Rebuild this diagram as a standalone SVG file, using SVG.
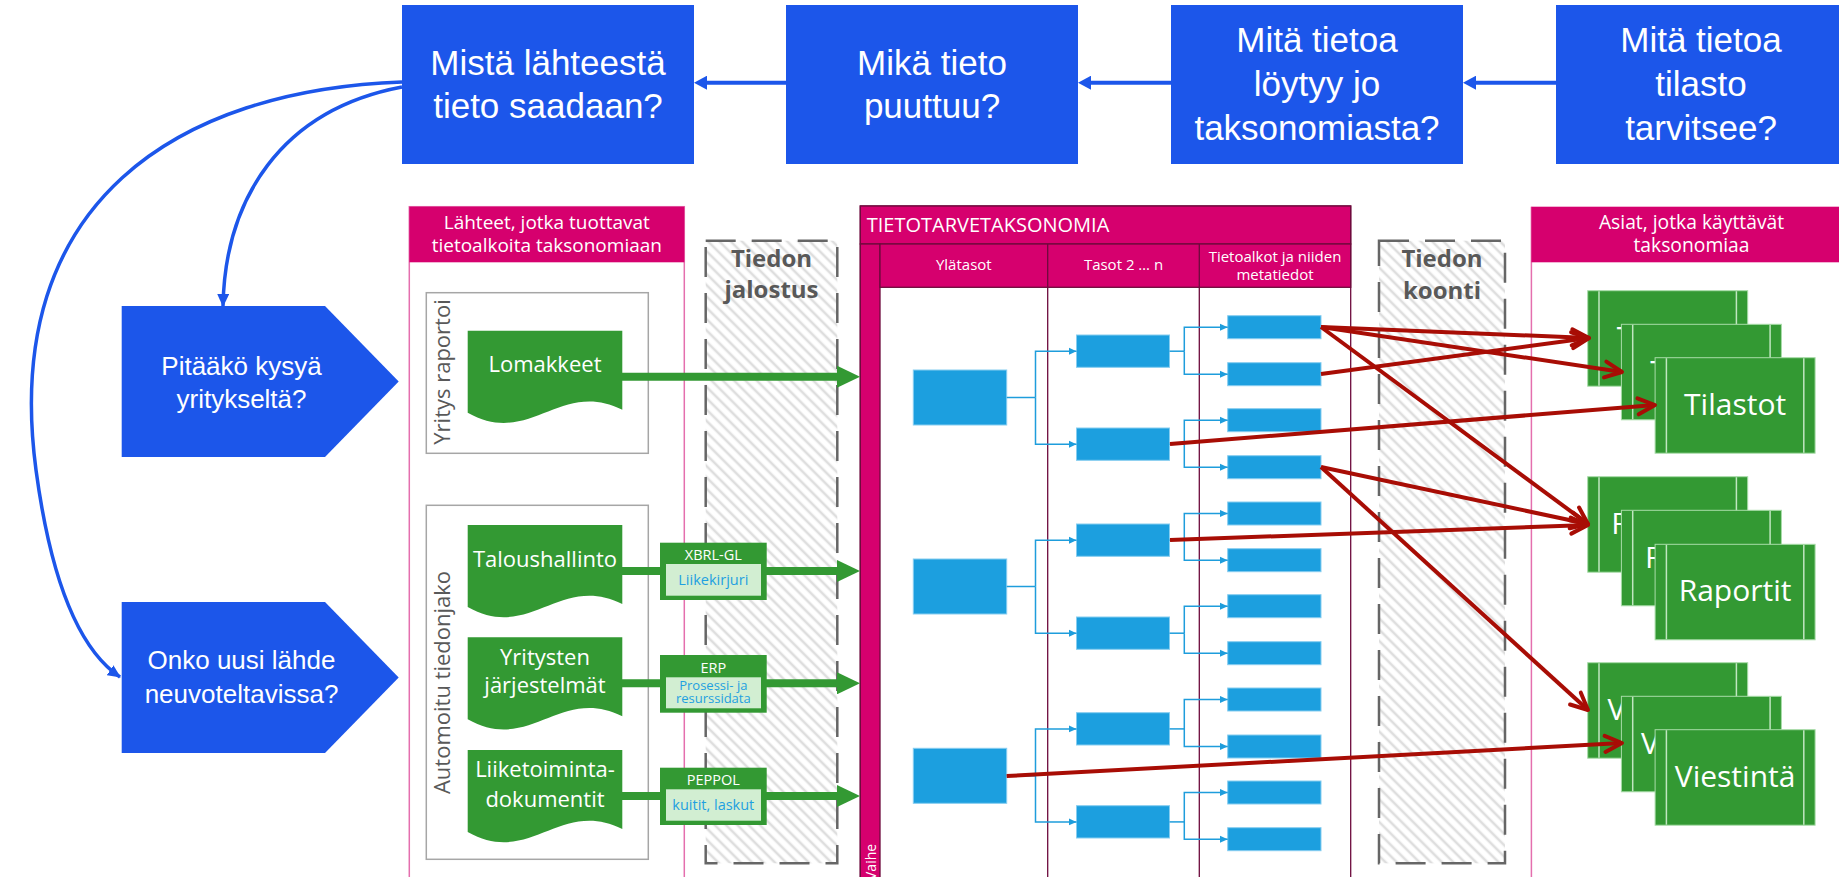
<svg xmlns="http://www.w3.org/2000/svg" width="1839" height="877" viewBox="0 0 1839 877">
<style>
.q{fill:#1c56ea}
.qt{font-family:"Liberation Sans",Arial,sans-serif;fill:#fff;text-anchor:middle}
.s{font-family:"Open Sans","Noto Sans",sans-serif}
.w{fill:#fff}
.mid{text-anchor:middle}
.pk{fill:#d6006e}
.pkl{fill:none;stroke:#e46fae;stroke-width:1.5}
.mr{stroke:#6d0a3c;stroke-width:1.3;fill:none}
.gb{fill:none;stroke:#a6a6a6;stroke-width:1.5}
.gr{fill:#339933}
.lg{fill:#d2eed2}
.bt{fill:#1ea0e0}
.bx{fill:#1c9fdf;stroke:#86cdf0;stroke-width:1}
.bc{fill:none;stroke:#1e9ddc;stroke-width:1.5}
.rd{fill:none;stroke:#a80d05;stroke-width:4;marker-end:url(#ra)}
.ga{fill:none;stroke:#339933;stroke-width:8;marker-end:url(#ga)}
.gl{fill:none;stroke:#339933;stroke-width:8}
.dash{fill:url(#hatch);stroke:#666;stroke-width:2.5;stroke-dasharray:30 16}
.dt{font-family:"Open Sans","Noto Sans",sans-serif;font-weight:bold;font-size:24px;fill:#595959;text-anchor:middle}
.card{fill:#339933;stroke:#a8dca8;stroke-width:1}
.cl{stroke:#c0e6c0;stroke-width:1.5}
.ct{font-family:"Open Sans","Noto Sans",sans-serif;font-size:30px;fill:#fff;text-anchor:middle}
.bl{fill:none;stroke:#1c56ea;stroke-width:3.5}
.rot{font-family:"Open Sans","Noto Sans",sans-serif;font-size:22px;fill:#595959;text-anchor:middle}
</style>
<defs>
<pattern id="hatch" patternUnits="userSpaceOnUse" width="8" height="8" patternTransform="rotate(-45)">
<rect width="8" height="8" fill="#fff"/>
<line x1="2" y1="0" x2="2" y2="8" stroke="#dedede" stroke-width="2.6"/>
</pattern>
<marker id="ra" markerUnits="userSpaceOnUse" viewBox="-20 -12 24 24" markerWidth="24" markerHeight="24" refX="0" refY="0" orient="auto">
<path d="M-17,-8 L0,0 L-17,8" fill="none" stroke="#a80d05" stroke-width="4" stroke-linejoin="round" stroke-linecap="round"/>
</marker>
<marker id="ga" markerUnits="userSpaceOnUse" viewBox="0 0 23 22" markerWidth="23" markerHeight="22" refX="3" refY="11" orient="auto">
<path d="M0,0 L23,11 L0,22 Z" fill="#339933"/>
</marker>
<marker id="ba" markerUnits="userSpaceOnUse" viewBox="0 0 8 8" markerWidth="8" markerHeight="8" refX="8" refY="4" orient="auto">
<path d="M0,0.3 L8,4 L0,7.7 Z" fill="#1e9ddc"/>
</marker>
<marker id="qa" markerUnits="userSpaceOnUse" viewBox="0 0 14 14" markerWidth="14" markerHeight="14" refX="7" refY="7" orient="auto">
<path d="M0,0 L13,7 L0,14 Z" fill="#1c56ea"/>
</marker>
<marker id="qc" markerUnits="userSpaceOnUse" viewBox="0 0 13 12" markerWidth="13" markerHeight="12" refX="12" refY="6" orient="auto">
<path d="M0,0 L13,6 L0,12 Z" fill="#1c56ea"/>
</marker>
<path id="doc" d="M0,0 H154.6 V79 C92.3,48 62.3,117 0,82 Z"/>
<g id="card">
<rect class="card" x="0" y="0" width="160" height="95.5"/>
<line class="cl" x1="11.3" y1="0.5" x2="11.3" y2="95"/>
<line class="cl" x1="148.7" y1="0.5" x2="148.7" y2="95"/>
</g>
</defs>

<rect width="1839" height="877" fill="#fff"/>

<!-- top question boxes -->
<g id="q1"><rect class="q" x="402" y="5" width="292" height="159"/>
<text class="qt" font-size="35"><tspan x="548" y="75">Mistä lähteestä</tspan><tspan x="548" y="118">tieto saadaan?</tspan></text></g>
<g id="q2"><rect class="q" x="786" y="5" width="292" height="159"/>
<text class="qt" font-size="35"><tspan x="932" y="75">Mikä tieto</tspan><tspan x="932" y="118">puuttuu?</tspan></text></g>
<g id="q3"><rect class="q" x="1171" y="5" width="292" height="159"/>
<text class="qt" font-size="35"><tspan x="1317" y="52">Mitä tietoa</tspan><tspan x="1317" y="96">löytyy jo</tspan><tspan x="1317" y="140">taksonomiasta?</tspan></text></g>
<g id="q4"><rect class="q" x="1556" y="5" width="290" height="159"/>
<text class="qt" font-size="35"><tspan x="1701" y="52">Mitä tietoa</tspan><tspan x="1701" y="96">tilasto</tspan><tspan x="1701" y="140">tarvitsee?</tspan></text></g>

<!-- pentagons -->
<g id="p1"><polygon class="q" points="121.7,306 325,306 398.7,381.6 325,457 121.7,457"/>
<text class="qt" font-size="26"><tspan x="241.5" y="374.6">Pitääkö kysyä</tspan><tspan x="241.5" y="408">yritykseltä?</tspan></text></g>
<g id="p2"><polygon class="q" points="121.7,602 325,602 398.7,677.5 325,753 121.7,753"/>
<text class="qt" font-size="26"><tspan x="241.5" y="669.3">Onko uusi lähde</tspan><tspan x="241.5" y="702.7">neuvoteltavissa?</tspan></text></g>

<!-- sources container -->
<g id="sources">
<rect class="pkl" x="409.3" y="206.7" width="275" height="690"/>
<rect class="pk" x="409.3" y="206.7" width="275" height="55.6"/>
<text class="s w mid" font-size="19"><tspan x="546.8" y="229">Lähteet, jotka tuottavat</tspan><tspan x="546.8" y="251.7">tietoalkoita taksonomiaan</tspan></text>
</g>
<g id="grp-raportoi">
<rect class="gb" x="426.3" y="292.7" width="222" height="160.6"/>
<text class="rot" transform="translate(450,372) rotate(-90)" x="0" y="0">Yritys raportoi</text>
</g>
<g id="grp-auto">
<rect class="gb" x="426.3" y="505.3" width="222" height="354"/>
<text class="rot" transform="translate(450,682.5) rotate(-90)" x="0" y="0">Automoitu tiedonjako</text>
</g>

<!-- dashed process boxes -->
<g id="jalostus">
<rect class="dash" x="705.7" y="240.7" width="131.6" height="622.6"/>
<text class="dt"><tspan x="771.5" y="266.7">Tiedon</tspan><tspan x="771.5" y="298.3">jalostus</tspan></text>
</g>
<g id="koonti">
<rect class="dash" x="1379" y="240.7" width="126" height="622.6"/>
<text class="dt"><tspan x="1442" y="267.3">Tiedon</tspan><tspan x="1442" y="299.3">koonti</tspan></text>
</g>

<!-- documents -->
<g id="d-lomakkeet"><use href="#doc" class="gr" x="467.7" y="330.7"/>
<text class="s w mid" font-size="22" x="545" y="372">Lomakkeet</text></g>
<g id="d-talous"><use href="#doc" class="gr" x="467.7" y="525"/>
<text class="s w mid" font-size="22" x="545" y="566.7">Taloushallinto</text></g>
<g id="d-jarj"><use href="#doc" class="gr" x="467.7" y="637.3"/>
<text class="s w mid" font-size="22"><tspan x="545" y="665">Yritysten</tspan><tspan x="545" y="693.3">järjestelmät</tspan></text></g>
<g id="d-liike"><use href="#doc" class="gr" x="467.7" y="750"/>
<text class="s w mid" font-size="22"><tspan x="545" y="777.3">Liiketoiminta-</tspan><tspan x="545" y="806.7">dokumentit</tspan></text></g>

<!-- taxonomy -->
<g id="taxonomy">
<rect x="860.3" y="206" width="490.4" height="690" fill="#fff" class="mr"/>
<rect class="pk" x="860.3" y="206" width="490.4" height="38" stroke="#6d0a3c" stroke-width="1.3"/>
<rect class="pk" x="860.3" y="244" width="19.7" height="650" stroke="#6d0a3c" stroke-width="1.3"/>
<rect class="pk" x="880" y="244" width="470.7" height="43.3" stroke="#6d0a3c" stroke-width="1.3"/>
<line class="mr" x1="1047.7" y1="244" x2="1047.7" y2="877"/>
<line class="mr" x1="1199.3" y1="244" x2="1199.3" y2="877"/>
<text class="s w" font-size="20" x="866.7" y="231.7">TIETOTARVETAKSONOMIA</text>
<text class="s w mid" font-size="15" x="963.8" y="270">Ylätasot</text>
<text class="s w mid" font-size="15" x="1123.5" y="270">Tasot 2 … n</text>
<text class="s w mid" font-size="15"><tspan x="1275" y="261.7">Tietoalkot ja niiden</tspan><tspan x="1275" y="280">metatiedot</tspan></text>
<text class="s w" font-size="14" transform="translate(876,880) rotate(-90)" x="0" y="0">Vaihe</text>
</g>

<g id="tax-l1">
<rect class="bx" x="913.3" y="370" width="93.4" height="55"/>
<rect class="bx" x="913.3" y="559" width="93.4" height="55"/>
<rect class="bx" x="913.3" y="748.3" width="93.4" height="55"/>
</g>
<g id="tax-l2">
<rect class="bx" x="1076.5" y="335" width="93" height="32.3"/>
<rect class="bx" x="1076.5" y="428" width="93" height="32.3"/>
<rect class="bx" x="1076.5" y="524" width="93" height="32.3"/>
<rect class="bx" x="1076.5" y="617" width="93" height="32.3"/>
<rect class="bx" x="1076.5" y="712.7" width="93" height="32.3"/>
<rect class="bx" x="1076.5" y="805.7" width="93" height="32.3"/>
</g>
<g id="tax-l3">
<rect class="bx" x="1227.7" y="315.7" width="93.3" height="23"/>
<rect class="bx" x="1227.7" y="362.7" width="93.3" height="23"/>
<rect class="bx" x="1227.7" y="408.7" width="93.3" height="23"/>
<rect class="bx" x="1227.7" y="455.7" width="93.3" height="23"/>
<rect class="bx" x="1227.7" y="502" width="93.3" height="23"/>
<rect class="bx" x="1227.7" y="548.7" width="93.3" height="23"/>
<rect class="bx" x="1227.7" y="594.7" width="93.3" height="23"/>
<rect class="bx" x="1227.7" y="641.7" width="93.3" height="23"/>
<rect class="bx" x="1227.7" y="688" width="93.3" height="23"/>
<rect class="bx" x="1227.7" y="735" width="93.3" height="23"/>
<rect class="bx" x="1227.7" y="781" width="93.3" height="23"/>
<rect class="bx" x="1227.7" y="827.7" width="93.3" height="23"/>
</g>

<!-- label boxes -->
<g id="lb-xbrl">
<rect class="gr" x="660" y="542.7" width="106.7" height="57.3"/>
<rect class="lg" x="666" y="564" width="95" height="31.7"/>
<text class="s w mid" font-size="14.5" x="713.3" y="560">XBRL-GL</text>
<text class="s bt mid" font-size="14.5" x="713.3" y="585">Liikekirjuri</text>
</g>
<g id="lb-erp">
<rect class="gr" x="660" y="655" width="106.7" height="57.7"/>
<rect class="lg" x="666" y="677.3" width="95" height="31"/>
<text class="s w mid" font-size="14.5" x="713.3" y="672.7">ERP</text>
<text class="s bt mid" font-size="13"><tspan x="713.3" y="689.5">Prosessi- ja</tspan><tspan x="713.3" y="703">resurssidata</tspan></text>
</g>
<g id="lb-peppol">
<rect class="gr" x="660" y="767.7" width="106.7" height="57.3"/>
<rect class="lg" x="666" y="789.3" width="95" height="31.4"/>
<text class="s w mid" font-size="14.5" x="713.3" y="785">PEPPOL</text>
<text class="s bt mid" font-size="14.5" x="713.3" y="810">kuitit, laskut</text>
</g>

<!-- users container -->
<g id="users">
<line class="pkl" x1="1531.4" y1="206.7" x2="1531.4" y2="877"/>
<rect class="pk" x="1531.4" y="206.7" width="315" height="55.6"/>
<text class="s w mid" font-size="19.3"><tspan x="1691.5" y="229.3">Asiat, jotka käyttävät</tspan><tspan x="1691.5" y="251.7">taksonomiaa</tspan></text>
</g>
<g id="tilastot">
<use href="#card" x="1587.7" y="290.7"/><text class="ct" x="1667.7" y="348">Tilastot</text>
<use href="#card" x="1621.4" y="324.3"/><text class="ct" x="1701.4" y="381.6">Tilastot</text>
<use href="#card" x="1655.1" y="357.7"/><text class="ct" x="1735.1" y="415">Tilastot</text>
</g>
<g id="raportit">
<use href="#card" x="1587.7" y="476.7"/><text class="ct" x="1667.7" y="534">Raportit</text>
<use href="#card" x="1621.4" y="510.3"/><text class="ct" x="1701.4" y="567.6">Raportit</text>
<use href="#card" x="1655.1" y="544.3"/><text class="ct" x="1735.1" y="601">Raportit</text>
</g>
<g id="viestinta">
<use href="#card" x="1587.7" y="662.7"/><text class="ct" x="1667.7" y="720">Viestintä</text>
<use href="#card" x="1621.4" y="696.3"/><text class="ct" x="1701.4" y="753.6">Viestintä</text>
<use href="#card" x="1655.1" y="729.7"/><text class="ct" x="1735.1" y="786.7">Viestintä</text>
</g>

<!-- connectors -->
<g id="connectors">
<line x1="1556" y1="82.7" x2="1469" y2="82.7" stroke="#1c56ea" stroke-width="4" marker-end="url(#qa)"/>
<line x1="1171" y1="82.7" x2="1084" y2="82.7" stroke="#1c56ea" stroke-width="4" marker-end="url(#qa)"/>
<line x1="786" y1="82.7" x2="700" y2="82.7" stroke="#1c56ea" stroke-width="4" marker-end="url(#qa)"/>
<path class="bl" d="M402,87 C280,110 225,200 223,306" marker-end="url(#qc)"/>
<path class="bl" d="M402,82 C180,90 0,200 36,470 C45,537 65,640 120,677" marker-end="url(#qc)"/>

<line class="ga" x1="622" y1="376.7" x2="840" y2="376.7"/>
<line class="gl" x1="622" y1="571" x2="661" y2="571"/>
<line class="ga" x1="766" y1="571" x2="840" y2="571"/>
<line class="gl" x1="622" y1="683.3" x2="661" y2="683.3"/>
<line class="ga" x1="766" y1="683.3" x2="840" y2="683.3"/>
<line class="gl" x1="622" y1="796" x2="661" y2="796"/>
<line class="ga" x1="766" y1="796" x2="840" y2="796"/>

<path class="bc" d="M1006.7,397.5 H1035.5"/>
<path class="bc" d="M1035.5,397.5 V351.2 H1076.5" marker-end="url(#ba)"/>
<path class="bc" d="M1035.5,397.5 V444.2 H1076.5" marker-end="url(#ba)"/>
<path class="bc" d="M1006.7,586.5 H1035.5"/>
<path class="bc" d="M1035.5,586.5 V540.2 H1076.5" marker-end="url(#ba)"/>
<path class="bc" d="M1035.5,586.5 V633.2 H1076.5" marker-end="url(#ba)"/>
<path class="bc" d="M1006.7,775.8 H1035.5"/>
<path class="bc" d="M1035.5,775.8 V728.9 H1076.5" marker-end="url(#ba)"/>
<path class="bc" d="M1035.5,775.8 V821.9 H1076.5" marker-end="url(#ba)"/>
<path class="bc" d="M1169.5,351.2 H1184.3"/>
<path class="bc" d="M1184.3,351.2 V327.2 H1227.7" marker-end="url(#ba)"/>
<path class="bc" d="M1184.3,351.2 V374.2 H1227.7" marker-end="url(#ba)"/>
<path class="bc" d="M1169.5,444.2 H1184.3"/>
<path class="bc" d="M1184.3,444.2 V420.2 H1227.7" marker-end="url(#ba)"/>
<path class="bc" d="M1184.3,444.2 V467.2 H1227.7" marker-end="url(#ba)"/>
<path class="bc" d="M1169.5,540.2 H1184.3"/>
<path class="bc" d="M1184.3,540.2 V513.5 H1227.7" marker-end="url(#ba)"/>
<path class="bc" d="M1184.3,540.2 V560.2 H1227.7" marker-end="url(#ba)"/>
<path class="bc" d="M1169.5,633.2 H1184.3"/>
<path class="bc" d="M1184.3,633.2 V606.2 H1227.7" marker-end="url(#ba)"/>
<path class="bc" d="M1184.3,633.2 V653.2 H1227.7" marker-end="url(#ba)"/>
<path class="bc" d="M1169.5,728.9 H1184.3"/>
<path class="bc" d="M1184.3,728.9 V699.5 H1227.7" marker-end="url(#ba)"/>
<path class="bc" d="M1184.3,728.9 V746.5 H1227.7" marker-end="url(#ba)"/>
<path class="bc" d="M1169.5,821.9 H1184.3"/>
<path class="bc" d="M1184.3,821.9 V792.5 H1227.7" marker-end="url(#ba)"/>
<path class="bc" d="M1184.3,821.9 V839.2 H1227.7" marker-end="url(#ba)"/>

<line class="rd" x1="1321" y1="327" x2="1589" y2="338"/>
<line class="rd" x1="1321" y1="327" x2="1622" y2="372"/>
<line class="rd" x1="1321" y1="327" x2="1588" y2="524"/>
<line class="rd" x1="1321" y1="374" x2="1589" y2="338"/>
<line class="rd" x1="1170" y1="444" x2="1655" y2="405"/>
<line class="rd" x1="1321" y1="467" x2="1588" y2="524"/>
<line class="rd" x1="1321" y1="467" x2="1588" y2="710"/>
<line class="rd" x1="1170" y1="540" x2="1588" y2="525"/>
<line class="rd" x1="1006.7" y1="776" x2="1622" y2="743"/>
</g>
</svg>
